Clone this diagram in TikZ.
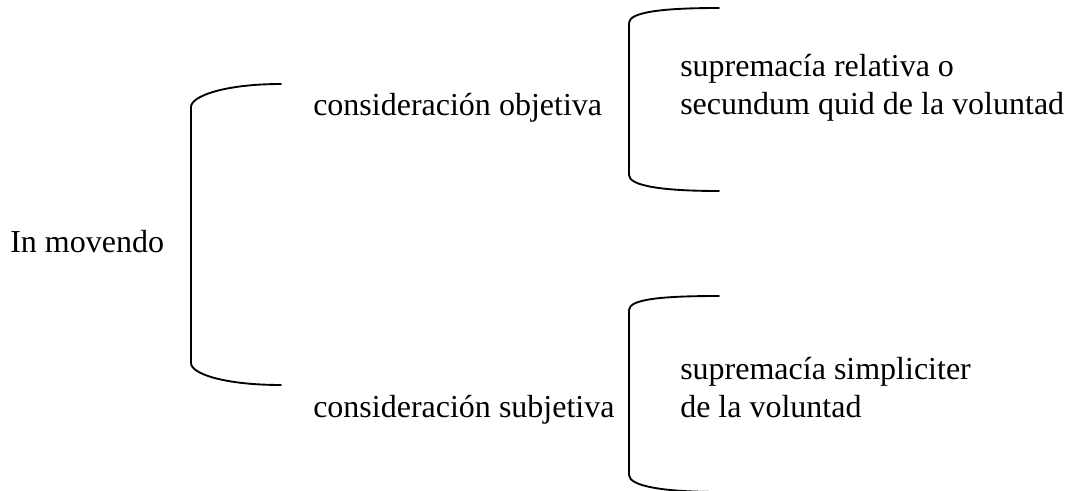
\documentclass[tikz,border=0pt]{standalone}
\usepackage{fontspec}
\setmainfont{Liberation Serif}
\tikzset{brace/.style={line width=1.4pt, line cap=round},
lbl/.style={anchor=base west, inner sep=0pt, font=\fontsize{24}{28}\selectfont}}

\begin{document}
\begin{tikzpicture}[x=0.75pt,y=-0.75pt]
\useasboundingbox (0,0) rectangle (1066,491);
\clip (0,0) rectangle (1066,491);
% brackets: x / top end / top corner / bottom corner / bottom end
\foreach \x/\ya/\yb/\yc/\yd in {191/84/107/363/385,629/8/23/175/191,629/296/310/475/492}
\draw[brace] (\x+90,\ya) .. controls (\x+34,\ya) and (\x,\yb-11) .. (\x,\yb) -- (\x,\yc)
 .. controls (\x,\yc+11) and (\x+34,\yd) .. (\x+90,\yd);
\node[lbl] (mov) at (10,253) {In movendo};
\node[lbl] (obj) at (313,116) {consideración objetiva};
\node[lbl] (subj) at (313,417) {consideración subjetiva};
\node[lbl] (rel) at (680,77) {supremacía relativa o};
\node[lbl] (quid) at (680,115) {secundum quid de la voluntad};
\node[lbl] (simp) at (680,379) {supremacía simpliciter};
\node[lbl] (vol) at (680,417) {de la voluntad};
\end{tikzpicture}
\end{document}
